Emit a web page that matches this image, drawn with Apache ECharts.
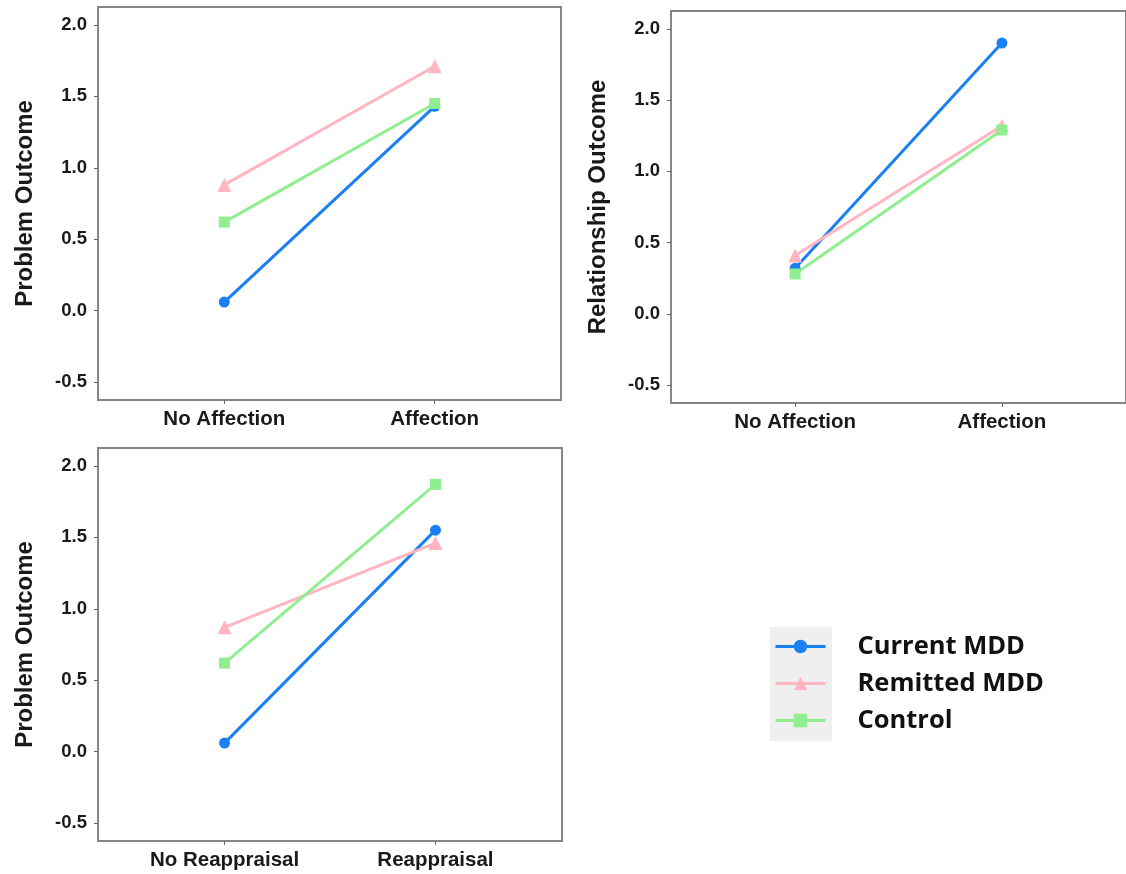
<!DOCTYPE html>
<html>
<head>
<meta charset="utf-8">
<script src="https://cdn.jsdelivr.net/npm/echarts@6/dist/echarts.min.js"></script>
<style>
html,body{margin:0;padding:0;background:#fff;}
#chart{width:1126px;height:874px;}
</style>
</head>
<body>
<div id="chart"></div>
<script>
// ---- data ----
var groups = ['Current MDD', 'Remitted MDD', 'Control'];
var panel1Cats = ['No Affection', 'Affection'];
var panel2Cats = ['No Affection', 'Affection'];
var panel3Cats = ['No Reappraisal', 'Reappraisal'];
var yTicks = [-0.5, 0.0, 0.5, 1.0, 1.5, 2.0];
var panel1Title = 'Problem Outcome';
var panel2Title = 'Relationship Outcome';
var panel3Title = 'Problem Outcome';
// values per group [first category, second category]
var p1Current = [0.06, 1.43];
var p1Remitted = [0.88, 1.71];
var p1Control = [0.62, 1.45];
var p2Current = [0.32, 1.90];
var p2Remitted = [0.41, 1.32];
var p2Control = [0.28, 1.29];
var p3Current = [0.06, 1.55];
var p3Remitted = [0.87, 1.46];
var p3Control = [0.62, 1.87];

// ---- styling ----
var colors = ['#1a7ff2', '#ffb6c1', '#90ee90'];
var symbols = ['circle', 'triangle', 'rect'];
var symSizes = [11, 14, 11];
var font = 'Liberation Sans, Arial, sans-serif';

var chart = echarts.init(document.getElementById('chart'));

var grids = [
  {left: 98, top: 7, width: 463, height: 393},
  {left: 671, top: 11, width: 464, height: 392},
  {left: 98, top: 448, width: 464, height: 393}
];
var catsList = [panel1Cats, panel2Cats, panel3Cats];
var titles = [panel1Title, panel2Title, panel3Title];
var panelData = [
  [p1Current, p1Remitted, p1Control],
  [p2Current, p2Remitted, p2Control],
  [p3Current, p3Remitted, p3Control]
];

var gridOpts = [], xAxes = [], yAxes = [], series = [];
grids.forEach(function (g, i) {
  gridOpts.push(Object.assign({show: true, borderColor: '#858585', borderWidth: 2, backgroundColor: 'transparent', containLabel: false}, g));
  var cats = catsList[i];
  xAxes.push({
    type: 'value', gridIndex: i, min: 0.4, max: 2.6, position: 'bottom',
    splitLine: {show: false},
    axisLine: {show: false, onZero: false},
    axisTick: {show: true, customValues: [1, 2], length: 4, lineStyle: {color: '#666', width: 1}},
    axisLabel: {
      customValues: [1, 2], margin: 9,
      formatter: function (v) { return cats[Math.round(v) - 1]; },
      color: '#1a1a1a', fontFamily: font, fontWeight: 'bold', fontSize: 20.5
    }
  });
  yAxes.push({
    type: 'value', gridIndex: i, min: -0.625, max: 2.125, position: 'left',
    name: titles[i], nameLocation: 'middle', nameGap: 61, nameRotate: 90,
    nameTextStyle: {color: '#1a1a1a', fontFamily: font, fontWeight: 'bold', fontSize: 24},
    splitLine: {show: false},
    axisLine: {show: false, onZero: false},
    axisTick: {show: true, customValues: yTicks, length: 4, lineStyle: {color: '#666', width: 1}},
    axisLabel: {
      customValues: yTicks, margin: 11,
      formatter: function (v) { return v.toFixed(1); },
      color: '#1a1a1a', fontFamily: font, fontWeight: 'bold', fontSize: 18.5
    }
  });
  panelData[i].forEach(function (vals, k) {
    series.push({
      name: groups[k], type: 'line', xAxisIndex: i, yAxisIndex: i,
      data: vals.map(function (v, j) { return [j + 1, v]; }),
      symbol: symbols[k], symbolSize: symSizes[k],
      lineStyle: {color: colors[k], width: 3},
      itemStyle: {color: colors[k]},
      emphasis: {disabled: true},
      animation: false
    });
  });
});

chart.setOption({
  animation: false,
  grid: gridOpts,
  xAxis: xAxes,
  yAxis: yAxes,
  series: series,
  graphic: [{
    type: 'rect', left: 770, top: 627, z: -1,
    shape: {width: 62, height: 114},
    style: {fill: '#efefef'}
  }],
  legend: {
    data: groups,
    orient: 'vertical', left: 769, top: 628,
    itemWidth: 50, itemHeight: 17, itemGap: 10,
    lineStyle: {width: 3},
    textStyle: {fontFamily: 'Open Sans, sans-serif', fontWeight: 'bold', fontSize: 25.5, color: '#111', lineHeight: 27, padding: [0, 0, 0, 27]},
    selectedMode: false
  }
});
</script>
</body>
</html>
